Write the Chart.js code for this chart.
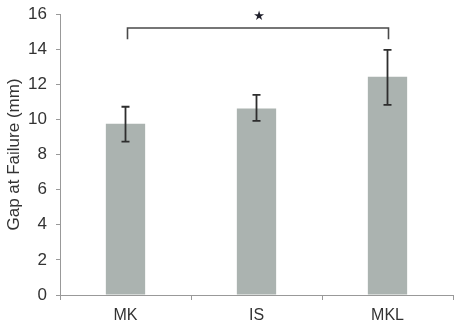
<!DOCTYPE html>
<html>
<head>
<meta charset="utf-8">
<script src="https://cdn.jsdelivr.net/npm/chart.js@4"></script>
<style>
html,body{margin:0;padding:0;background:#fff;}
#wrap{width:457px;height:324px;}
</style>
</head>
<body>
<div id="wrap"><canvas id="c" width="457" height="324"></canvas></div>
<script>
const categories = ['MK', 'IS', 'MKL'];
const gapMeans = [9.75, 10.62, 12.42];
const errLow = [8.73, 9.92, 10.83];
const errHigh = [10.72, 11.40, 13.96];
const yTicks = [0, 2, 4, 6, 8, 10, 12, 14, 16];
const sigFrom = 0, sigTo = 2;
const sigLevel = 15.2, sigDrop = 14.56, sigStarLevel = 15.87;

const annot = {
  id: 'annot',
  afterDatasetsDraw(chart) {
    const ctx = chart.ctx, x = chart.scales.x, y = chart.scales.y;
    ctx.save();
    ctx.strokeStyle = '#2e2e2e';
    ctx.lineWidth = 1.8;
    for (let i = 0; i < categories.length; i++) {
      const cx = x.getPixelForValue(i);
      const yl = y.getPixelForValue(errLow[i]);
      const yh = y.getPixelForValue(errHigh[i]);
      ctx.beginPath();
      ctx.moveTo(cx, yl); ctx.lineTo(cx, yh);
      ctx.moveTo(cx - 4, yl); ctx.lineTo(cx + 4, yl);
      ctx.moveTo(cx - 4, yh); ctx.lineTo(cx + 4, yh);
      ctx.stroke();
    }
    // significance bracket
    const x1 = x.getPixelForValue(sigFrom) + 2, x2 = x.getPixelForValue(sigTo) + 1;
    const yb = y.getPixelForValue(sigLevel), yd = y.getPixelForValue(sigDrop);
    ctx.strokeStyle = '#4a4a4a';
    ctx.lineWidth = 1.6;
    ctx.beginPath();
    ctx.moveTo(x1, yd); ctx.lineTo(x1, yb); ctx.lineTo(x2, yb); ctx.lineTo(x2, yd);
    ctx.stroke();
    ctx.fillStyle = '#1e1e2a';
    ctx.font = '13px "DejaVu Sans"';
    ctx.textAlign = 'center';
    ctx.textBaseline = 'middle';
    ctx.fillText('★', (x1 + x2) / 2 + 1, y.getPixelForValue(sigStarLevel));
    ctx.restore();
  }
};

new Chart(document.getElementById('c'), {
  type: 'bar',
  data: {
    labels: categories,
    datasets: [{
      data: gapMeans,
      backgroundColor: '#abb3b0',
      borderWidth: 0,
      barPercentage: 0.6,
      categoryPercentage: 0.5
    }]
  },
  options: {
    responsive: false,
    animation: false,
    layout: { padding: { left: 0, right: 4, top: 14, bottom: 0 } },
    plugins: { legend: { display: false }, tooltip: { enabled: false } },
    scales: {
      x: {
        offset: true,
        grid: { display: true, drawOnChartArea: false, offset: true, color: '#999', tickLength: 5, lineWidth: 1 },
        border: { display: true, color: '#999', width: 1 },
        ticks: { color: '#333', font: { family: 'Liberation Sans', size: 16 }, padding: 6 },
        afterFit(s) { s.height = 29; s.paddingLeft = 0; s.paddingRight = 0; }
      },
      y: {
        min: 0, max: 16,
        afterBuildTicks(s) { s.ticks = yTicks.map(v => ({ value: v })); },
        grid: { display: true, drawOnChartArea: false, color: '#999', tickLength: 4, lineWidth: 1 },
        border: { display: true, color: '#999', width: 1 },
        ticks: { color: '#333', font: { family: 'Liberation Sans', size: 17 }, padding: 9 },
        title: { display: true, text: 'Gap at Failure (mm)', color: '#333', font: { family: 'Liberation Sans', size: 17 }, padding: { top: 4, bottom: 0 } },
        afterFit(s) { s.width = 60; s.paddingTop = 0; s.paddingBottom = 0; }
      }
    }
  },
  plugins: [annot]
});
</script>
</body>
</html>
